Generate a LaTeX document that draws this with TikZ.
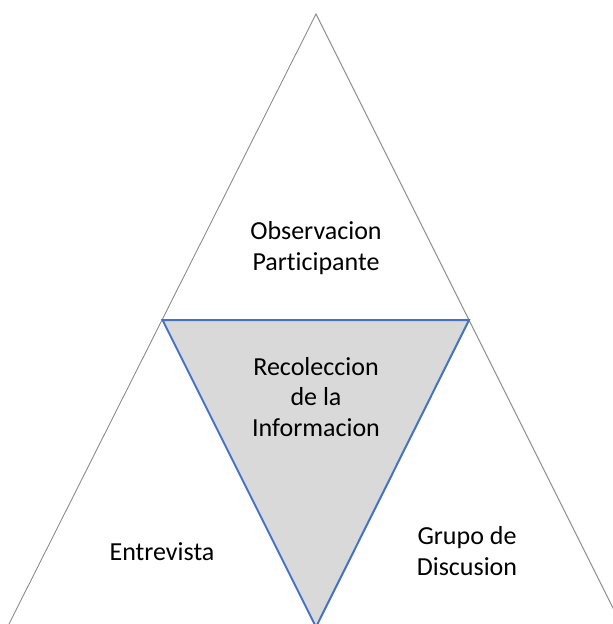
\documentclass[tikz,border=0pt]{standalone}
\usepackage{fontspec}
\setmainfont{Carlito}[Ligatures={NoCommon}]
\definecolor{outerline}{HTML}{8C8C8C}
\definecolor{innerfill}{HTML}{D9D9D9}
\definecolor{innerline}{HTML}{4472C4}
\tikzset{
  outer/.style={draw=outerline, line width=0.9pt},
  inner/.style={draw=innerline, fill=innerfill, line width=2pt, line join=miter},
  lbl/.style={align=center, font=\fontsize{26}{30.5}\selectfont, text=black, inner sep=0pt}
}
\begin{document}
\begin{tikzpicture}[x=1pt, y=-1pt]
  \useasboundingbox (0,0) rectangle (613,624);
  \clip (0,0) rectangle (613,624);
  \coordinate (apex) at (316,14);
  \coordinate (bl) at (9,624);
  \coordinate (br) at (621,624);
  \coordinate (itl) at (162.5,320);
  \coordinate (itr) at (469,320);
  \coordinate (ib) at (316,627);
  \draw[outer] (bl) -- (apex) -- (br);
  \draw[inner] (itl) -- (itr) -- (ib) -- cycle;
  \node[lbl] (obs) at (316,248) {Observacion\\Participante};
  \node[lbl] (rec) at (316,397) {Recoleccion\\de la\\Informacion};
  \node[lbl] (ent) at (162,552) {Entrevista};
  \node[lbl] (gru) at (467,551) {Grupo de\\Discusion};
\end{tikzpicture}
\end{document}
